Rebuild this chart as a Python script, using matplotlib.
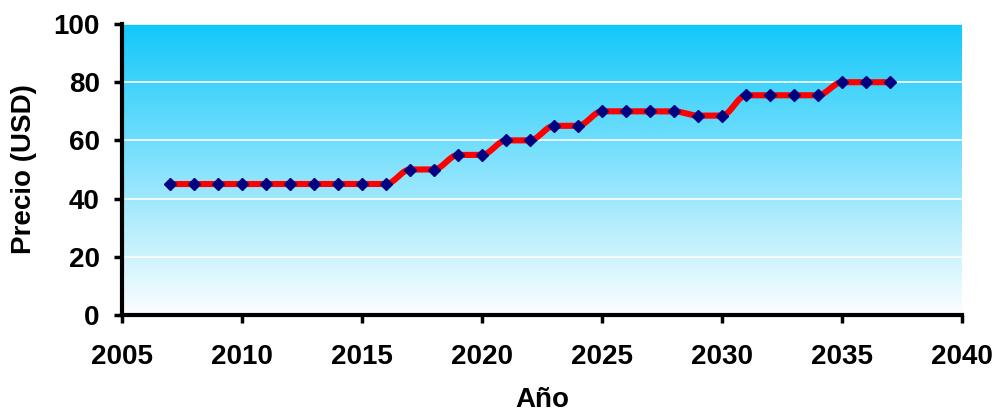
import numpy as np
import matplotlib
matplotlib.use("Agg")
import matplotlib.pyplot as plt
from matplotlib.colors import LinearSegmentedColormap

years = list(range(2007, 2038))
prices = [45, 45, 45, 45, 45, 45, 45, 45, 45, 45,
          50, 50, 55, 55, 60, 60, 65, 65, 70, 70,
          70, 70, 68.5, 68.5, 75.5, 75.5, 75.5, 75.5, 80, 80, 80]
xticks = [2005, 2010, 2015, 2020, 2025, 2030, 2035, 2040]
yticks = [0, 20, 40, 60, 80, 100]

plt.rcParams['font.family'] = ['Liberation Sans', 'DejaVu Sans']

def smooth(x, y, n=24):
    # monotone cubic (Fritsch-Carlson) smoothing for the rendered line
    x = np.asarray(x, float); y = np.asarray(y, float)
    h = np.diff(x)
    dlt = np.diff(y) / h
    m = np.zeros_like(y)
    m[0], m[-1] = dlt[0], dlt[-1]
    for i in range(1, len(y) - 1):
        if dlt[i-1] * dlt[i] > 0:
            m[i] = 2 / (1 / dlt[i-1] + 1 / dlt[i])
        else:
            m[i] = 0.0
    t = np.linspace(0, 1, n, endpoint=False)
    h00 = 2*t**3 - 3*t**2 + 1
    h10 = t**3 - 2*t**2 + t
    h01 = -2*t**3 + 3*t**2
    h11 = t**3 - t**2
    xs, ys = [], []
    for i in range(len(x) - 1):
        xs.extend(x[i] + t * h[i])
        ys.extend(h00*y[i] + h10*h[i]*m[i] + h01*y[i+1] + h11*h[i]*m[i+1])
    xs.append(x[-1]); ys.append(y[-1])
    return np.array(xs), np.array(ys)

fig = plt.figure(figsize=(9.95, 4.13), dpi=100)
ax = fig.add_axes([122/995, 1 - 315/413, (962-122)/995, (315-24)/413])

cmap = LinearSegmentedColormap.from_list('bg', ['#fdfeff', '#12c8fa'])
grad = np.linspace(0, 1, 256).reshape(-1, 1)
ax.imshow(grad, aspect='auto', cmap=cmap, origin='lower',
          extent=[0, 1, 0, 1], transform=ax.transAxes, zorder=0)

ax.set_xlim(2005, 2040)
ax.set_ylim(0, 100)
for yv in yticks[1:]:
    ax.axhline(yv, color='white', lw=1.2, zorder=1)

sx, sy = smooth(years, prices)
ax.plot(sx, sy, color='#ff0000', lw=4.4, zorder=2, solid_capstyle='round',
        solid_joinstyle='round')
ax.plot(years, prices, ls='none', marker='D', color='#000080', ms=6, zorder=3)

ax.set_xticks(xticks)
ax.set_yticks(yticks)
ax.tick_params(axis='both', direction='out', length=6, width=2.5, labelsize=20)
ax.tick_params(axis='x', pad=15)
ax.tick_params(axis='y', pad=10)
for lab in ax.get_xticklabels() + ax.get_yticklabels():
    lab.set_fontweight('bold')
for s in ('top', 'right'):
    ax.spines[s].set_visible(False)
for s in ('left', 'bottom'):
    ax.spines[s].set_linewidth(3)
ax.set_xlabel('Año', fontsize=20, fontweight='bold', labelpad=12)
ax.set_ylabel('Precio (USD)', fontsize=20, fontweight='bold', labelpad=12)

fig.savefig('out.png', dpi=100)
